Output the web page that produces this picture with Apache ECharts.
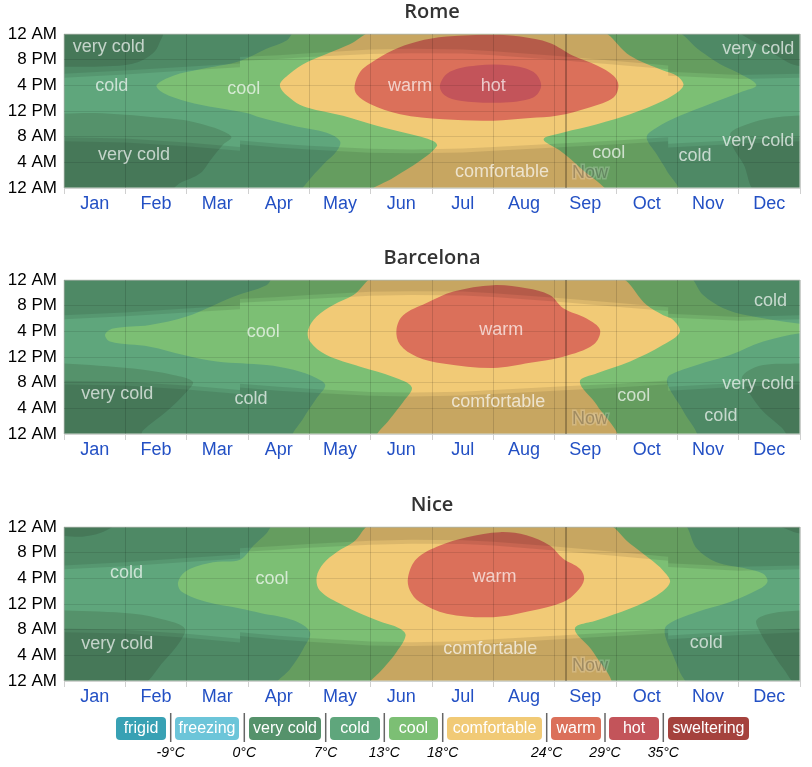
<!DOCTYPE html>
<html>
<head>
<meta charset="utf-8">
<script src="https://cdn.jsdelivr.net/npm/echarts@6/dist/echarts.min.js"></script>
<style>
html, body { margin: 0; padding: 0; background: #fff; }
#main { width: 812px; height: 767px; }
</style>
</head>
<body>
<div id="main"></div>
<script>
var months = ['Jan', 'Feb', 'Mar', 'Apr', 'May', 'Jun', 'Jul', 'Aug', 'Sep', 'Oct', 'Nov', 'Dec'];
var hourTicks = ['12 AM', '4 AM', '8 AM', '12 PM', '4 PM', '8 PM', '12 AM'];
var bandNames = ['frigid', 'freezing', 'very cold', 'cold', 'cool', 'comfortable', 'warm', 'hot', 'sweltering'];
var bandColors = ['#38a1b4', '#6cc5d9', '#55926b', '#5fa67c', '#7cbf74', '#f1ca76', '#db705a', '#c3545a', '#a5423d'];
var bandLimits = ['-9°C', '0°C', '7°C', '13°C', '18°C', '24°C', '29°C', '35°C'];
var cityNames = ['Rome', 'Barcelona', 'Nice'];
var nowMonth = 8.185;

// contours: [month (0 = 1 Jan, 12 = 31 Dec), hour of day]
var romeVeryColdTL = [[-0.3,18.9],[0,18.9],[0.8,19.0],[1.2,19.6],[1.45,21],[1.55,22.5],[1.6,24.6],[-0.3,24.6]];
var romeVeryColdBL = [[-0.3,11.6],[0,11.6],[0.5,11.7],[1.0,11.4],[1.5,11.0],[1.95,10.6],[2.3,9.8],[2.6,8.8],[2.73,7.9],[2.6,6.8],[2.4,4.5],[2.22,2.3],[1.9,0.8],[1.67,-0.6],[-0.3,-0.6]];
var romeVeryColdTR = [[11.0,24.6],[11.4,22],[11.8,19.6],[12,19.0],[12.3,18.9],[12.3,24.6]];
var romeVeryColdBR = [[12.3,11.3],[12,11.3],[11.46,10.8],[11.02,9.5],[10.86,8.4],[10.91,6.3],[11.08,3.7],[11.29,-0.6],[12.3,-0.6]];
var romeCool = [[1.51,16.0],[1.78,17.5],[2.22,18.5],[2.87,19.8],[3.3,21.7],[3.63,23.0],[3.8,24.6],[9.9,24.6],[10.37,21.4],[10.7,19.3],[11.02,17.8],[11.29,16.0],[11.02,14.9],[10.53,13.1],[10.04,11.25],[9.66,9.4],[9.5,7.9],[9.66,5.3],[9.83,2.65],[10.0,-0.6],[3.88,-0.6],[3.96,0.8],[4.23,3.7],[4.45,5.8],[4.5,7.3],[4.28,8.6],[3.74,9.7],[3.2,11.0],[2.98,11.7],[2.49,12.5],[2.0,13.5],[1.62,14.8]];
var romeComfortable = [[3.52,15.94],[3.68,17.8],[3.96,19.6],[4.28,20.9],[4.66,22.4],[5.1,24.6],[8.7,24.6],[9.23,20.6],[9.77,18.3],[9.99,17.5],[10.1,16.2],[10.04,15.2],[9.77,13.6],[9.23,11.5],[8.69,9.95],[8.14,8.65],[7.82,7.6],[8.09,5.8],[8.41,3.2],[8.8,-0.6],[5.0,-0.6],[5.37,1.6],[5.8,4.2],[6.08,6.56],[6.02,7.34],[5.64,8.4],[5.1,9.7],[4.55,11.25],[3.96,12.55],[3.74,13.6]];
var romeWarm = [[4.74,16.0],[4.83,18.1],[4.99,19.4],[5.37,21.5],[5.75,22.8],[6.24,23.6],[7.0,23.9],[7.44,23.6],[7.92,22.6],[8.3,20.6],[8.69,19.1],[8.96,17.5],[9.04,16.0],[8.96,14.1],[8.58,12.6],[8.03,11.25],[7.6,10.9],[7.0,10.5],[6.18,10.7],[5.48,11.5],[4.99,13.1],[4.77,14.6]];
var romeHot = [[6.13,16.0],[6.29,18.1],[6.73,19.1],[7.27,19.1],[7.65,18.1],[7.78,16.0],[7.65,14.1],[7.11,13.3],[6.46,13.6],[6.21,14.4]];

var barVeryColdBL = [[-0.3,11.0],[0,11.0],[1.13,10.2],[1.78,9.2],[2.1,8.15],[2.0,6.6],[1.67,3.5],[1.29,0.6],[1.22,-0.6],[-0.3,-0.6]];
var barVeryColdBR = [[12.3,11.0],[12,11.0],[11.4,10.75],[11.13,9.7],[11.05,8.5],[11.2,6],[11.4,3.5],[11.7,1.0],[11.85,-0.6],[12.3,-0.6]];
var barCool = [[0.67,15.5],[0.8,16.45],[1.4,17.0],[2.0,18.3],[2.76,21.4],[3.3,23.2],[3.45,24.6],[10.15,24.6],[10.42,21.65],[10.75,19.6],[11.13,18.5],[12,17.2],[12.3,17.2],[12.3,15.7],[12,15.7],[11.4,14.4],[10.86,12.3],[10.32,10.75],[9.88,9.2],[9.83,8.15],[9.93,6.1],[10.1,3.5],[10.28,-0.6],[3.75,-0.6],[3.9,2.4],[4.12,5.6],[4.26,7.6],[4.12,8.7],[3.74,10.0],[3.3,10.75],[2.49,11.3],[1.95,12.3],[1.4,13.6],[0.75,14.4]];
var barComfortable = [[3.98,16.2],[4.12,18.3],[4.39,20.1],[4.72,21.65],[5.1,24.6],[9.0,24.6],[9.5,20.1],[9.77,18.5],[9.93,17.8],[10.04,15.9],[9.77,13.9],[9.23,11.3],[8.69,9.45],[8.41,8.15],[8.69,4.5],[8.98,-0.6],[5.12,-0.6],[5.32,2.4],[5.53,5.0],[5.67,7.3],[5.37,8.9],[4.83,10.5],[4.28,12.3],[4.01,14.4]];
var barWarm = [[5.42,16.2],[5.53,18.5],[5.91,20.4],[6.35,22.2],[7.0,23.2],[7.54,22.7],[7.92,21.65],[8.14,19.6],[8.52,18.0],[8.74,16.2],[8.63,13.9],[8.14,12.05],[7.6,11.1],[7.0,10.3],[6.18,11.0],[5.75,12.05],[5.48,13.9]];

var niceVeryColdTL = [[-0.3,22.6],[0,22.6],[0.3,22.5],[0.6,23.1],[0.85,24.6],[-0.3,24.6]];
var niceVeryColdTR = [[11.6,24.6],[11.85,23.4],[12,23.0],[12.3,23.0],[12.3,24.6]];
var niceVeryColdBL = [[-0.3,11.0],[0,11.0],[1.13,10.5],[1.67,9.45],[1.97,8.15],[1.89,6.1],[1.62,3.0],[1.24,-0.6],[-0.3,-0.6]];
var niceVeryColdBR = [[12.3,11.0],[12,11.0],[11.51,10.5],[11.29,9.45],[11.35,7.6],[11.51,5.0],[11.73,1.9],[11.95,-0.6],[12.3,-0.6]];
var niceCool = [[1.86,15.4],[2.0,17.2],[2.43,18.5],[2.87,18.9],[3.09,21.1],[3.3,23.0],[3.45,24.6],[10.05,24.6],[10.32,20.6],[10.64,18.5],[11.13,17.5],[11.4,16.7],[11.47,15.5],[11.35,14.4],[10.86,12.3],[10.32,10.75],[9.83,8.7],[9.8,7.1],[9.93,4.0],[10.04,1.4],[10.12,-0.6],[3.48,-0.6],[3.69,1.9],[3.9,5.0],[4.01,7.6],[3.74,9.45],[3.2,10.6],[2.87,11.3],[2.33,12.3],[1.92,13.9]];
var niceComfortable = [[4.12,16.2],[4.23,18.3],[4.45,20.1],[4.72,21.65],[5.05,24.6],[8.8,24.6],[9.23,21.4],[9.55,19.05],[9.77,17.2],[9.88,15.4],[9.66,13.3],[9.23,11.3],[8.69,9.45],[8.33,8.15],[8.63,4.5],[8.88,-0.6],[5.0,-0.6],[5.2,1.9],[5.42,4.5],[5.57,7.1],[5.48,8.15],[5.1,9.45],[4.55,11.8],[4.17,14.1]];
var niceWarm = [[5.61,16.2],[5.75,19.05],[6.13,21.1],[6.57,22.4],[7.11,23.2],[7.54,22.7],[7.92,21.1],[8.14,19.05],[8.41,17.5],[8.48,15.8],[8.36,13.9],[8.14,12.3],[7.6,10.9],[7.0,9.95],[6.24,10.5],[5.8,12.3],[5.64,14.1]];

// daylight edges: start of evening twilight, start of night, end of night, end of morning twilight
var romeDusk = [[0,17.2],[1,17.7],[2,18.3],[2.87,18.8],[2.87,19.8],[3.5,20.1],[4,20.4],[5,20.9],[5.67,21.0],[6.5,20.95],[7,20.7],[8,20.0],[9,19.2],[9.85,18.5],[9.85,17.5],[11,17.0],[12,17.2]];
var romeNightStart = [[0,17.8],[1,18.3],[2,18.9],[2.87,19.4],[2.87,20.4],[3.5,20.7],[4,21.0],[5,21.6],[5.67,21.7],[6.5,21.6],[7,21.3],[8,20.6],[9,19.8],[9.85,19.1],[9.85,18.1],[11,17.6],[12,17.8]];
var romeNightEnd = [[0,7.3],[1,7.1],[2,6.5],[2.87,5.8],[2.87,6.8],[3.5,6.3],[4,6.0],[5,5.5],[5.67,5.4],[6.5,5.55],[7,5.8],[8,6.3],[9,6.8],[9.85,7.3],[9.85,6.3],[11,6.9],[12,7.3]];
var romeDawn = [[0,7.9],[1,7.7],[2,7.1],[2.87,6.4],[2.87,7.4],[3.5,6.9],[4,6.6],[5,6.1],[5.67,6.0],[6.5,6.15],[7,6.4],[8,6.9],[9,7.4],[9.85,7.9],[9.85,6.9],[11,7.5],[12,7.9]];

var barDusk = [[0,17.9],[1,18.35],[2,18.95],[2.87,19.45],[2.87,20.45],[3.5,20.75],[4,21.05],[5,21.55],[5.67,21.65],[6.5,21.6],[7,21.35],[8,20.65],[9,19.85],[9.85,19.15],[9.85,18.15],[11,17.65],[12,17.9]];
var barNightStart = [[0,18.5],[1,18.95],[2,19.55],[2.87,20.05],[2.87,21.05],[3.5,21.35],[4,21.65],[5,22.15],[5.67,22.25],[6.5,22.2],[7,21.95],[8,21.25],[9,20.45],[9.85,19.75],[9.85,18.75],[11,18.25],[12,18.5]];
var barNightEnd = [[0,7.7],[1,7.55],[2,6.95],[2.87,6.25],[2.87,7.25],[3.5,6.75],[4,6.45],[5,5.95],[5.67,5.85],[6.5,6.0],[7,6.25],[8,6.75],[9,7.25],[9.85,7.75],[9.85,6.75],[11,7.35],[12,7.7]];
var barDawn = [[0,8.3],[1,8.15],[2,7.55],[2.87,6.85],[2.87,7.85],[3.5,7.35],[4,7.05],[5,6.55],[5.67,6.45],[6.5,6.6],[7,6.85],[8,7.35],[9,7.85],[9.85,8.35],[9.85,7.35],[11,7.95],[12,8.3]];

var niceDusk = [[0,17.4],[1,17.9],[2,18.55],[2.87,19.1],[2.87,20.1],[3.5,20.45],[4,20.75],[5,21.25],[5.67,21.4],[6.5,21.35],[7,21.1],[8,20.35],[9,19.5],[9.85,18.75],[9.85,17.75],[11,17.2],[12,17.4]];
var niceNightStart = [[0,18.0],[1,18.5],[2,19.15],[2.87,19.7],[2.87,20.7],[3.5,21.05],[4,21.35],[5,21.85],[5.67,22.0],[6.5,21.95],[7,21.7],[8,20.95],[9,20.1],[9.85,19.35],[9.85,18.35],[11,17.8],[12,18.0]];
var niceNightEnd = [[0,7.6],[1,7.4],[2,6.75],[2.87,6.0],[2.87,7.0],[3.5,6.45],[4,6.1],[5,5.55],[5.67,5.45],[6.5,5.6],[7,5.9],[8,6.45],[9,7.0],[9.85,7.5],[9.85,6.5],[11,7.15],[12,7.6]];
var niceDawn = [[0,8.2],[1,8.0],[2,7.35],[2.87,6.6],[2.87,7.6],[3.5,7.05],[4,6.7],[5,6.15],[5.67,6.05],[6.5,6.2],[7,6.5],[8,7.05],[9,7.6],[9.85,8.1],[9.85,7.1],[11,7.75],[12,8.2]];

// band names written on the chart: [month, hour, text]
var romeLabels = [[0.73,21.9,'very cold'],[0.78,15.9,'cold'],[2.93,15.5,'cool'],[5.64,15.9,'warm'],[7.0,15.9,'hot'],[1.14,5.2,'very cold'],[7.14,2.5,'comfortable'],[8.88,5.5,'cool'],[10.29,5.0,'cold'],[11.32,7.3,'very cold'],[11.32,21.7,'very cold']];
var barLabels = [[3.25,15.9,'cool'],[0.87,6.2,'very cold'],[3.05,5.45,'cold'],[7.13,16.2,'warm'],[7.08,5.0,'comfortable'],[11.52,20.7,'cold'],[9.29,5.9,'cool'],[11.32,7.8,'very cold'],[10.71,2.8,'cold']];
var niceLabels = [[1.02,16.8,'cold'],[3.39,15.9,'cool'],[7.02,16.2,'warm'],[0.87,5.8,'very cold'],[6.95,5.0,'comfortable'],[10.47,5.9,'cold']];

var fullArea = [[-1,-1],[13,-1],[13,25],[-1,25]];

var cities = [
  { regions: [[3, fullArea], [2, romeVeryColdTL], [2, romeVeryColdBL], [2, romeVeryColdTR], [2, romeVeryColdBR], [4, romeCool], [5, romeComfortable], [6, romeWarm], [7, romeHot]],
    dusk: romeDusk, nightStart: romeNightStart, nightEnd: romeNightEnd, dawn: romeDawn, labels: romeLabels },
  { regions: [[3, fullArea], [2, barVeryColdBL], [2, barVeryColdBR], [4, barCool], [5, barComfortable], [6, barWarm]],
    dusk: barDusk, nightStart: barNightStart, nightEnd: barNightEnd, dawn: barDawn, labels: barLabels },
  { regions: [[3, fullArea], [2, niceVeryColdTL], [2, niceVeryColdTR], [2, niceVeryColdBL], [2, niceVeryColdBR], [4, niceCool], [5, niceComfortable], [6, niceWarm]],
    dusk: niceDusk, nightStart: niceNightStart, nightEnd: niceNightEnd, dawn: niceDawn, labels: niceLabels }
];

var gridTops = [34, 280, 527];
var gridHeight = 154;
var shade = 'rgba(0,0,0,0.13)';

var chart = echarts.init(document.getElementById('main'));

var grids = [], xAxes = [], yAxes = [], series = [], graphics = [];

cities.forEach(function (city, i) {
  grids.push({ left: 64, right: 12, top: gridTops[i], height: gridHeight,
    show: true, borderColor: '#d3dbd3', borderWidth: 1, backgroundColor: 'transparent' });

  xAxes.push({
    type: 'category', gridIndex: i, data: months, boundaryGap: true,
    axisLine: { show: false },
    axisTick: { show: true, interval: 0, length: 6, lineStyle: { color: '#d0d0d0' } },
    axisLabel: { interval: 0, color: '#2350c4', fontSize: 18, margin: 7, fontFamily: 'Liberation Sans, Arial, sans-serif' },
    splitLine: { show: true, interval: 0, lineStyle: { color: 'rgba(0,0,0,0.13)', width: 1 } }
  });
  xAxes.push({ type: 'value', gridIndex: i, min: 0, max: 12, show: false });

  yAxes.push({
    type: 'value', gridIndex: i, min: 0, max: 24, interval: 4,
    axisLine: { show: false }, axisTick: { show: false },
    axisLabel: { color: '#000', fontSize: 17, margin: 7, fontFamily: 'Liberation Sans, Arial, sans-serif',
      formatter: function (v) { return hourTicks[v / 4]; } },
    splitLine: { show: true, lineStyle: { color: 'rgba(0,0,0,0.1)', width: 1 } }
  });

  var xi = i * 2 + 1;
  var regions = city.regions;

  series.push({
    type: 'custom', xAxisIndex: xi, yAxisIndex: i, z: -3, clip: true, silent: true,
    data: regions.map(function (r) { return r[1][0]; }),
    renderItem: function (params, api) {
      var r = regions[params.dataIndex];
      var pts = r[1].map(function (p) { return api.coord(p); });
      return {
        type: 'polygon', z2: params.dataIndex,
        shape: { points: pts, smooth: r[1] === fullArea ? 0 : 0.35 },
        style: { fill: bandColors[r[0]] }
      };
    }
  });

  [[city.dusk, 'end'], [city.nightStart, 'end'], [city.dawn, 'start'], [city.nightEnd, 'start']].forEach(function (o) {
    series.push({
      type: 'line', xAxisIndex: xi, yAxisIndex: i, z: -2, silent: true,
      data: o[0], symbol: 'none', lineStyle: { width: 0, opacity: 0 },
      areaStyle: { color: shade, origin: o[1] }
    });
  });

  series.push({
    type: 'line', xAxisIndex: xi, yAxisIndex: i, z: 3, silent: true, symbol: 'none',
    data: [[nowMonth, 0], [nowMonth, 24]],
    lineStyle: { color: 'rgba(0,0,0,0.42)', width: 1.2 }
  });
  series.push({
    type: 'scatter', xAxisIndex: xi, yAxisIndex: i, z: 4, silent: true, symbolSize: 0,
    data: [[nowMonth, 0]],
    label: { show: true, position: 'inside', offset: [24, -15], formatter: 'Now',
      fontSize: 18, fontFamily: 'Liberation Sans, Arial, sans-serif', color: 'rgba(0,0,0,0.3)',
      textBorderColor: 'rgba(255,255,255,0.25)', textBorderWidth: 3 }
  });

  series.push({
    type: 'scatter', xAxisIndex: xi, yAxisIndex: i, z: 5, silent: true, symbolSize: 0,
    data: city.labels.map(function (l) { return { value: [l[0], l[1]], name: l[2] }; }),
    label: { show: true, position: 'inside', formatter: '{b}', fontSize: 18,
      fontFamily: 'Liberation Sans, Arial, sans-serif', color: 'rgba(255,255,255,0.85)' }
  });

  graphics.push({
    type: 'text', x: 432, y: gridTops[i] - 22,
    style: { text: cityNames[i], font: '600 20px "Open Sans", "Noto Sans", sans-serif', fill: '#333',
      textAlign: 'center', textVerticalAlign: 'middle', verticalAlign: 'middle' }
  });
});

// legend strip
var legendBoxes = [[116,166],[175,239],[249,321],[330,380],[389,438],[447,542],[551,601],[609,659],[668,749]];
var legendSeps = [170.7, 244.3, 325.7, 384.3, 442.7, 546.7, 605, 663.3];
legendBoxes.forEach(function (b, k) {
  graphics.push({ type: 'rect', shape: { x: b[0], y: 717, width: b[1] - b[0], height: 23, r: 4 },
    style: { fill: bandColors[k] } });
  graphics.push({ type: 'text', x: (b[0] + b[1]) / 2, y: 728.5,
    style: { text: bandNames[k], font: '16px "Liberation Sans", Arial, sans-serif', fill: '#fff',
      textAlign: 'center', textVerticalAlign: 'middle', verticalAlign: 'middle' } });
});
legendSeps.forEach(function (s, k) {
  graphics.push({ type: 'line', shape: { x1: s, y1: 713, x2: s, y2: 742 }, style: { stroke: '#666', lineWidth: 1.5 } });
  graphics.push({ type: 'text', x: s, y: 753,
    style: { text: bandLimits[k], font: 'italic 14px "Liberation Sans", Arial, sans-serif', fill: '#000',
      textAlign: 'center', textVerticalAlign: 'middle', verticalAlign: 'middle' } });
});

var option = {
  animation: false,
  grid: grids,
  xAxis: xAxes,
  yAxis: yAxes,
  series: series,
  graphic: graphics
};

chart.setOption(option, true);
</script>
</body>
</html>
